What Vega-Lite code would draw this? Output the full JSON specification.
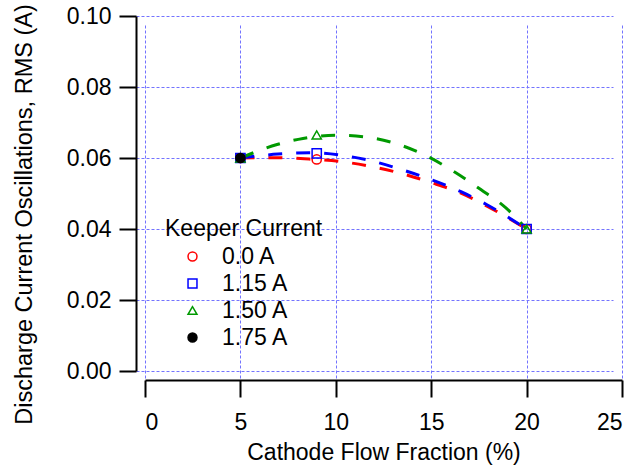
{
  "$schema": "https://vega.github.io/schema/vega-lite/v6.json",
  "width": 477,
  "height": 355,
  "autosize": {"type": "none"},
  "padding": {"left": 145, "top": 16, "right": 18, "bottom": 94},
  "background": "white",
  "config": {
    "view": {"stroke": null},
    "font": "Liberation Sans",
    "axis": {
      "domainColor": "black",
      "domainWidth": 2,
      "tickColor": "black",
      "tickWidth": 2,
      "tickSize": 17,
      "labelFont": "Liberation Sans",
      "labelFontSize": 23,
      "labelColor": "black",
      "titleFont": "Liberation Sans",
      "titleFontSize": 23,
      "titleFontWeight": "normal",
      "titleColor": "black",
      "grid": true,
      "gridColor": "#7373ff",
      "gridDash": [3, 2],
      "gridWidth": 1,
      "offset": 9
    }
  },
  "datasets": {
    "measured": [
      {"fraction": 5, "rms": 0.060, "keeper": "0.0 A"},
      {"fraction": 9, "rms": 0.0596, "keeper": "0.0 A"},
      {"fraction": 20, "rms": 0.040, "keeper": "0.0 A"},
      {"fraction": 5, "rms": 0.060, "keeper": "1.15 A"},
      {"fraction": 9, "rms": 0.0613, "keeper": "1.15 A"},
      {"fraction": 20, "rms": 0.040, "keeper": "1.15 A"},
      {"fraction": 5, "rms": 0.060, "keeper": "1.50 A"},
      {"fraction": 9, "rms": 0.0665, "keeper": "1.50 A"},
      {"fraction": 20, "rms": 0.040, "keeper": "1.50 A"},
      {"fraction": 5, "rms": 0.060, "keeper": "1.75 A"}
    ],
    "fits": [
      {"fraction": 5, "rms": 0.0600, "keeper": "0.0 A"},
      {"fraction": 6.97, "rms": 0.0601, "keeper": "0.0 A"},
      {"fraction": 8.6, "rms": 0.0597, "keeper": "0.0 A"},
      {"fraction": 10.27, "rms": 0.0590, "keeper": "0.0 A"},
      {"fraction": 11.85, "rms": 0.0576, "keeper": "0.0 A"},
      {"fraction": 13.47, "rms": 0.0556, "keeper": "0.0 A"},
      {"fraction": 14.99, "rms": 0.0531, "keeper": "0.0 A"},
      {"fraction": 16.56, "rms": 0.0501, "keeper": "0.0 A"},
      {"fraction": 17.9, "rms": 0.0465, "keeper": "0.0 A"},
      {"fraction": 20, "rms": 0.0400, "keeper": "0.0 A"},
      {"fraction": 5, "rms": 0.0600, "keeper": "1.15 A"},
      {"fraction": 6.97, "rms": 0.0611, "keeper": "1.15 A"},
      {"fraction": 8.6, "rms": 0.0615, "keeper": "1.15 A"},
      {"fraction": 10.27, "rms": 0.0608, "keeper": "1.15 A"},
      {"fraction": 11.85, "rms": 0.0592, "keeper": "1.15 A"},
      {"fraction": 13.4, "rms": 0.0568, "keeper": "1.15 A"},
      {"fraction": 15.0, "rms": 0.0539, "keeper": "1.15 A"},
      {"fraction": 16.56, "rms": 0.0505, "keeper": "1.15 A"},
      {"fraction": 17.9, "rms": 0.0469, "keeper": "1.15 A"},
      {"fraction": 20, "rms": 0.0400, "keeper": "1.15 A"},
      {"fraction": 5, "rms": 0.0600, "keeper": "1.50 A"},
      {"fraction": 6.92, "rms": 0.0638, "keeper": "1.50 A"},
      {"fraction": 8.28, "rms": 0.0655, "keeper": "1.50 A"},
      {"fraction": 10.06, "rms": 0.0664, "keeper": "1.50 A"},
      {"fraction": 11.74, "rms": 0.0658, "keeper": "1.50 A"},
      {"fraction": 13.3, "rms": 0.0638, "keeper": "1.50 A"},
      {"fraction": 14.78, "rms": 0.0605, "keeper": "1.50 A"},
      {"fraction": 16.25, "rms": 0.0560, "keeper": "1.50 A"},
      {"fraction": 17.6, "rms": 0.0511, "keeper": "1.50 A"},
      {"fraction": 18.9, "rms": 0.0460, "keeper": "1.50 A"},
      {"fraction": 20, "rms": 0.0400, "keeper": "1.50 A"}
    ]
  },
  "encoding": {
    "x": {
      "field": "fraction", "type": "quantitative",
      "scale": {"domain": [0, 25], "nice": false, "zero": false},
      "axis": {"title": "Cathode Flow Fraction (%)", "values": [0, 5, 10, 15, 20, 25], "format": "d", "labelPadding": 14, "titlePadding": 7}
    },
    "y": {
      "field": "rms", "type": "quantitative",
      "scale": {"domain": [0, 0.1], "nice": false},
      "axis": {"title": "Discharge Current Oscillations, RMS (A)", "values": [0, 0.02, 0.04, 0.06, 0.08, 0.1], "format": ".2f", "labelPadding": 8, "titlePadding": 30, "titleFontSize": 23.5, "titleY": 198}
    }
  },
  "layer": [
    {
      "data": {"name": "fits"},
      "transform": [{"filter": "datum.keeper === '0.0 A'"}],
      "mark": {"type": "line", "strokeWidth": 3, "strokeDash": [14, 14], "interpolate": "monotone", "color": "#ff0000"}
    },
    {
      "data": {"name": "fits"},
      "transform": [{"filter": "datum.keeper === '1.15 A'"}],
      "mark": {"type": "line", "strokeWidth": 3, "strokeDash": [14, 14], "interpolate": "monotone", "color": "#0000ff"}
    },
    {
      "data": {"name": "fits"},
      "transform": [{"filter": "datum.keeper === '1.50 A'"}],
      "mark": {"type": "line", "strokeWidth": 3, "strokeDash": [14, 14], "interpolate": "monotone", "color": "#009900"}
    },
    {
      "data": {"name": "measured"},
      "mark": {"type": "point", "strokeWidth": 1.5, "size": 85, "opacity": 1},
      "encoding": {
        "stroke": {
          "field": "keeper", "type": "nominal",
          "scale": {"domain": ["0.0 A", "1.15 A", "1.50 A", "1.75 A"], "range": ["#ff0000", "#0000ff", "#009900", "#000000"]},
          "legend": {
            "title": "Keeper Current",
            "orient": "none",
            "legendX": 20,
            "legendY": 202,
            "titleFontSize": 23,
            "titleFontWeight": "normal",
            "titleColor": "black",
            "titlePadding": 4,
            "labelFontSize": 23,
            "labelColor": "black",
            "symbolOffset": 16,
            "labelOffset": 18,
            "rowPadding": 3,
            "symbolStrokeWidth": 1.5,
            "symbolSize": 80
          }
        },
        "fill": {
          "field": "keeper", "type": "nominal",
          "scale": {"domain": ["0.0 A", "1.15 A", "1.50 A", "1.75 A"], "range": ["rgba(0,0,0,0)", "rgba(0,0,0,0)", "rgba(0,0,0,0)", "#000000"]}
        },
        "shape": {
          "field": "keeper", "type": "nominal",
          "scale": {"domain": ["0.0 A", "1.15 A", "1.50 A", "1.75 A"], "range": ["circle", "square", "triangle-up", "circle"]}
        }
      }
    },
    {
      "data": {"values": [{"t": "P"}]},
      "mark": {"type": "text", "fontSize": 23, "align": "left", "baseline": "alphabetic", "color": "black"},
      "encoding": {"x": {"datum": 0.89}, "y": {"datum": 0.0882}, "text": {"field": "t"}}
    },
    {
      "data": {"values": [{"t": "D"}]},
      "mark": {"type": "text", "fontSize": 15, "align": "left", "baseline": "alphabetic", "color": "black", "dx": 14, "dy": 5},
      "encoding": {"x": {"datum": 0.89}, "y": {"datum": 0.0882}, "text": {"field": "t"}}
    },
    {
      "data": {"values": [{"t": "= 0.9 kW"}]},
      "mark": {"type": "text", "fontSize": 23, "align": "left", "baseline": "alphabetic", "color": "black", "dx": 33},
      "encoding": {"x": {"datum": 0.89}, "y": {"datum": 0.0882}, "text": {"field": "t"}}
    }
  ]
}
